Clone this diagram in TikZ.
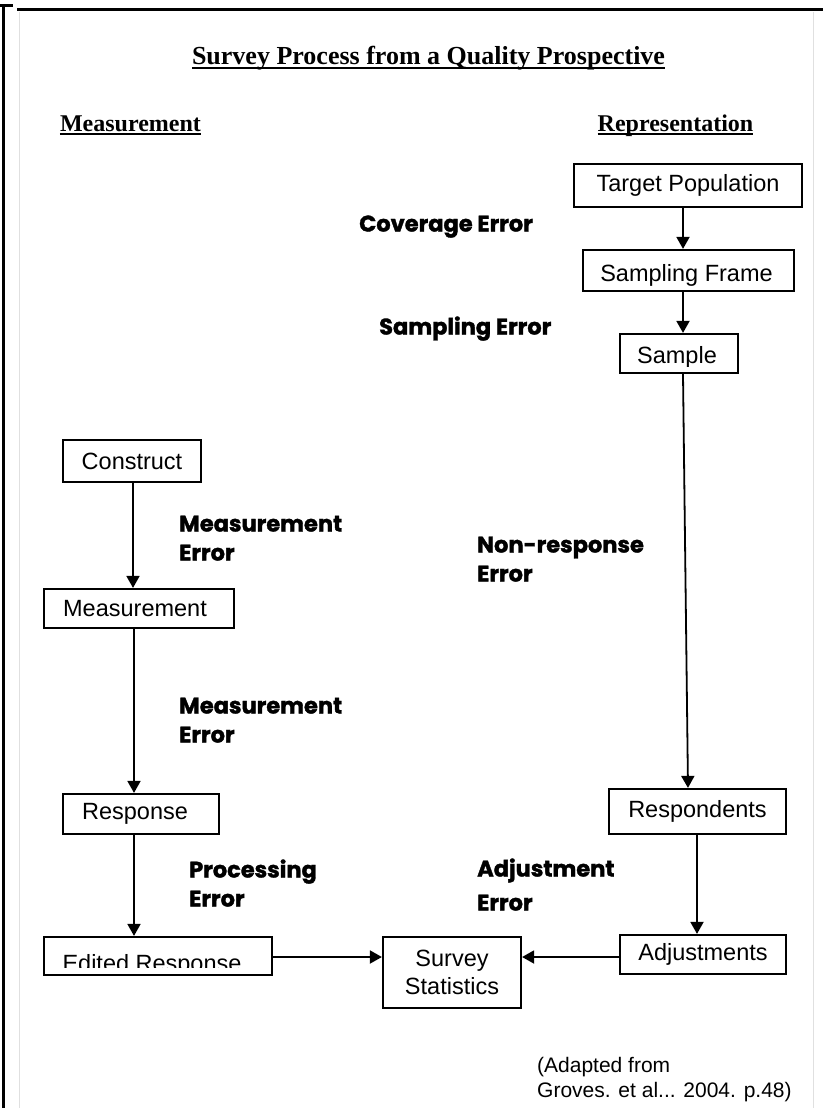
\documentclass[tikz,border=0pt]{standalone}
\usepackage{fontspec}
\setmainfont{Liberation Serif}
\newfontfamily\arial{Liberation Sans}
\newfontfamily\tnr{Liberation Serif}
\newfontfamily\errfont{Poppins}[BoldFeatures={FakeBold=1.6}]
\usetikzlibrary{arrows.meta}
\tikzset{
  box/.style={draw, line width=2.2pt, inner sep=0pt, align=center, font=\arial\fontsize{23.5}{28}\selectfont},
  boxtext/.style={inner sep=0pt, anchor=base, font=\arial\fontsize{23.5}{28}\selectfont},
  arr/.style={line width=1.8pt, -{Triangle[width=13pt,length=12pt]}},
  errlabel/.style={inner sep=0pt, anchor=base west, align=left, font=\errfont\bfseries\fontsize{22.5}{29}\selectfont},
  head/.style={inner sep=0pt, anchor=base, font=\tnr\bfseries\fontsize{24}{28}\selectfont},
  uline/.style={line width=1.8pt},
  note/.style={inner sep=0pt, anchor=base west, align=left, font=\arial\fontsize{21}{25}\selectfont},
  frameline/.style={line width=2.6pt},
  faint/.style={line width=1pt, black!12},
}
\begin{document}
\begin{tikzpicture}[x=1pt, y=-1pt]
\useasboundingbox[fill=white] (0,0) rectangle (823,1108);
% page frame
\draw[frameline] (3.3,5) -- (3.3,1108);
\draw[frameline] (0,5.5) -- (12.5,5.5);
\draw[line width=3.2pt] (17,9.3) -- (823,9.3);
\draw[faint] (19.5,12) -- (19.5,1108);
\draw[faint] (813,12) -- (813,1108);

% headings
\node[head, font=\tnr\bfseries\fontsize{26}{30}\selectfont] (title) at (428.5,65) {Survey Process from a Quality Prospective};
\draw[uline] ([yshift=-3.3pt]title.base west) -- ([yshift=-3.3pt]title.base east);
\node[head] (hmeas) at (130.5,131) {Measurement};
\draw[uline] ([yshift=-3pt]hmeas.base west) -- ([yshift=-3pt]hmeas.base east);
\node[head] (hrep) at (675.5,131) {Representation};
\draw[uline] ([yshift=-3pt]hrep.base west) -- ([yshift=-3pt]hrep.base east);

% representation side
\node[box, minimum width=228, minimum height=43] (target) at (688,185.5) {Target Population};
\node[box, minimum width=211, minimum height=41] (frame) at (688.5,270.5) {};
\begin{scope}
  \clip (frame.north west) rectangle ([yshift=7pt]frame.south east);
  \node[boxtext] (frameT) at (686.5,281) {Sampling Frame};
\end{scope}
\node[box, minimum width=118, minimum height=39] (sample) at (679,353.5) {};
\begin{scope}
  \clip (sample.north west) rectangle ([yshift=8pt]sample.south east);
  \node[boxtext] (sampleT) at (677,363) {Sample};
\end{scope}
\node[box, minimum width=177, minimum height=45] (respondents) at (697.5,811.5) {Respondents};
\node[box, minimum width=166, minimum height=39] (adjust) at (703,954.5) {\raisebox{-7pt}{Adjustments}};

% measurement side
\node[box, minimum width=138, minimum height=42] (construct) at (132,461) {Construct};
\node[box, minimum width=190, minimum height=39] (meas) at (139,608.5) {Measurement\hspace*{8pt}};
\node[box, minimum width=156, minimum height=40] (resp) at (141,814) {Response\hspace*{12pt}};
\node[box, minimum width=228, minimum height=38] (edited) at (158,956) {};
\begin{scope}
  \clip (edited.north west) rectangle ([yshift=9pt]edited.south east);
  \node[boxtext] (editedT) at (152,971) {Edited Response};
\end{scope}

% centre
\node[box, minimum width=138, minimum height=71] (stats) at (452,972.5) {Survey\\Statistics};

% connectors
\draw[arr] ([xshift=-5pt]target.south) -- ([xshift=-5pt]target.south |- frame.north);
\draw[arr] ([xshift=-5.5pt]frame.south) -- ([xshift=-5.5pt]frame.south |- sample.north);
\draw[arr] ([xshift=4pt]sample.south) -- ([xshift=-9.5pt]respondents.north);
\draw[arr] ([xshift=-0.5pt]respondents.south) -- ([xshift=-0.5pt]respondents.south |- adjust.north);
\draw[arr] ([yshift=-2.5pt]adjust.west) -- ([yshift=-2.5pt]adjust.west -| stats.east);
\draw[arr] ([yshift=-1pt]edited.east) -- ([yshift=-1pt]edited.east -| stats.west);
\draw[arr] ([xshift=1pt]construct.south) -- ([xshift=1pt]construct.south |- meas.north);
\draw[arr] ([xshift=-5pt]meas.south) -- ([xshift=-5pt]meas.south |- resp.north);
\draw[arr] ([xshift=-7pt]resp.south) -- ([xshift=-7pt]resp.south |- edited.north);

% error labels (anchor = baseline of the last line)
\node[errlabel] (ecov) at (359,231.5) {Coverage Error};
\node[errlabel] (esam) at (379,334.5) {Sampling Error};
\node[errlabel] (emeas1) at (179,560.5) {Measurement\\Error};
\node[errlabel] (emeas2) at (179,742.5) {Measurement\\Error};
\node[errlabel] (enon) at (477,581.5) {Non-response\\Error};
\node[errlabel] (eproc) at (189,906.5) {Processing\\Error};
\node[errlabel] (eadj) at (477,910.5) {Adjustment\\[5pt]Error};

% source note
\node[note] (src) at (537,1097.5) {(Adapted from\\Groves. et al... 2004. p.48)};
\end{tikzpicture}
\end{document}
